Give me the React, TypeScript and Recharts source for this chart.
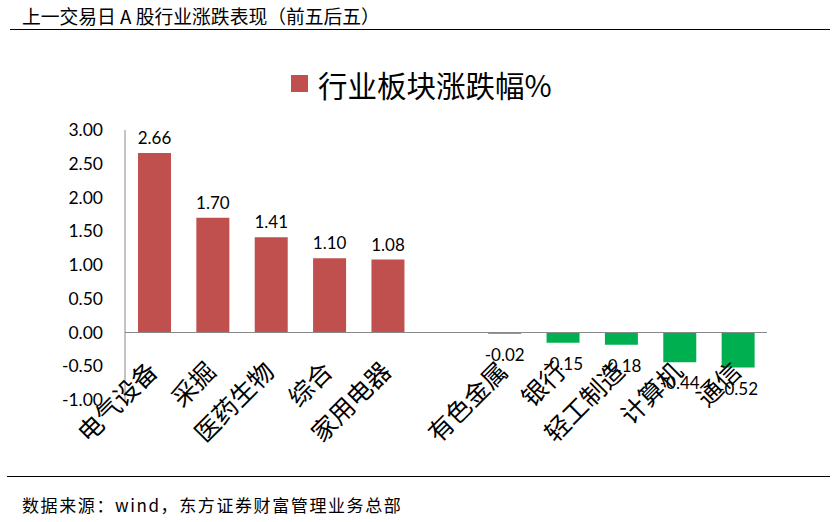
import React from 'react';
import { BarChart, Bar, XAxis, YAxis, Cell, LabelList, ReferenceLine } from 'recharts';

const categories = ['电气设备', '采掘', '医药生物', '综合', '家用电器', '', '有色金属', '银行', '轻工制造', '计算机', '通信'];
const changes = [2.66, 1.7, 1.41, 1.1, 1.08, null, -0.02, -0.15, -0.18, -0.44, -0.52];
const yTicks = [3, 2.5, 2, 1.5, 1, 0.5, 0, -0.5, -1];

const data = categories.map((name, i) => ({ name, value: changes[i] }));

const UP = '#C0504D';
const DOWN = '#00B050';
const NUM_FONT = 'Lato, "Open Sans", sans-serif';
const CJK_FONT = '"Noto Sans CJK SC", sans-serif';

const CategoryTick = (props: any) => {
  const { x, y, payload } = props;
  if (!payload.value) return null;
  const ax = x + 5;
  const ay = y - 27;
  return (
    <text
      x={ax}
      y={ay}
      transform={`rotate(-45, ${ax}, ${ay})`}
      textAnchor="end"
      fontFamily={CJK_FONT}
      fontSize={25}
      fill="#000"
    >
      {payload.value}
    </text>
  );
};

const ValueLabel = (props: any) => {
  const { x, y, width, height, value } = props;
  if (value == null) return null;
  const cx = x + width / 2;
  const top = Math.min(y, y + height);
  const bottom = Math.max(y, y + height);
  const ty = value >= 0 ? top - 9 : bottom + 27;
  return (
    <text x={cx} y={ty} textAnchor="middle" fontFamily={NUM_FONT} fontSize={17} fill="#000">
      {value.toFixed(2)}
    </text>
  );
};

const App: React.FC = () => {
  return (
    <div style={{ position: 'absolute', left: 0, top: 0, width: 836, height: 522, background: '#fff', overflow: 'hidden' }}>
      <div style={{ position: 'absolute', left: 22, top: 5, fontFamily: CJK_FONT, fontSize: 18.8, lineHeight: '22px', color: '#000', whiteSpace: 'pre' }}>
        上一交易日 A 股行业涨跌表现（前五后五）
      </div>
      <div style={{ position: 'absolute', left: 10, top: 29, width: 820, height: 1, background: '#000' }} />

      <div style={{ position: 'absolute', left: 291, top: 75, width: 17, height: 17, background: UP }} />
      <div style={{ position: 'absolute', left: 318, top: 64, fontFamily: CJK_FONT, fontSize: 29.5, lineHeight: '40px', color: '#000', whiteSpace: 'pre' }}>
        行业板块涨跌幅%
      </div>

      <div style={{ position: 'absolute', left: 0, top: 0 }}>
        <BarChart width={836} height={522} data={data} margin={{ top: 130, right: 69, bottom: 92, left: 0 }}>
          <XAxis
            dataKey="name"
            axisLine={false}
            tickLine={false}
            tickSize={0}
            tickMargin={0}
            height={30}
            interval={0}
            tick={<CategoryTick />}
          />
          <YAxis
            width={125}
            domain={[-1, 3]}
            ticks={yTicks}
            interval={0}
            tickFormatter={(v: number) => v.toFixed(2)}
            axisLine={{ stroke: '#888' }}
            tickLine={false}
            tickSize={0}
            tickMargin={22}
            tick={{ fontFamily: NUM_FONT, fontSize: 17.5, fill: '#000' }}
          />
          <ReferenceLine y={0} stroke="#888" />
          <Bar dataKey="value" barSize={33} isAnimationActive={false}>
            {data.map((d, i) => (
              <Cell key={`cell-${i}`} fill={(d.value ?? 0) >= 0 ? UP : DOWN} />
            ))}
            <LabelList dataKey="value" content={<ValueLabel />} />
          </Bar>
        </BarChart>
      </div>

      <div style={{ position: 'absolute', left: 7, top: 476, width: 823, height: 1, background: '#000' }} />
      <div style={{ position: 'absolute', left: 22, top: 494, fontFamily: CJK_FONT, fontSize: 17, letterSpacing: 1.6, lineHeight: '22px', color: '#000', whiteSpace: 'pre' }}>
        数据来源：wind，东方证券财富管理业务总部
      </div>
    </div>
  );
};

export default App;
